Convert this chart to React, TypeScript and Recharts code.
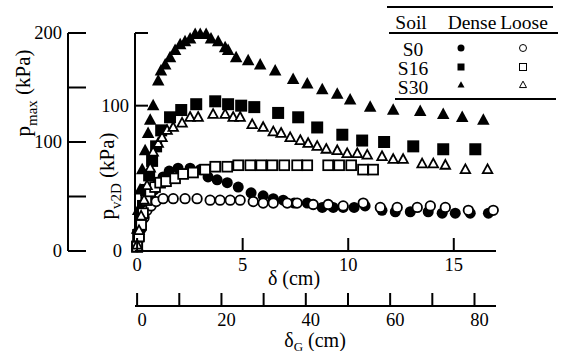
import { ScatterChart, Scatter, XAxis, YAxis, Legend } from 'recharts';

const FONT = '"Liberation Serif", "Times New Roman", serif';

// [δ (cm), p_v2D (kPa)]
const denseS0: [number, number][] = [
  [0, 3], [0.09, 8], [0.19, 15], [0.28, 22], [0.43, 29], [0.62, 36], [0.81, 42], [1.0, 47],
  [1.23, 51], [1.52, 55], [1.94, 57], [2.51, 57], [2.99, 56], [3.36, 51], [3.79, 49], [4.27, 47],
  [4.79, 44], [5.4, 40], [5.97, 38], [6.45, 36], [6.92, 35], [7.44, 33], [8.06, 33], [8.77, 30],
  [9.29, 30], [9.76, 30], [10.28, 30], [10.8, 31], [11.6, 28], [12.23, 27], [12.94, 27],
  [13.79, 27], [14.45, 26], [15.07, 26], [15.78, 26], [16.64, 26],
];
const denseS16: [number, number][] = [
  [0, 3], [0.05, 11], [0.14, 21], [0.28, 31], [0.43, 42], [0.57, 52], [0.71, 62], [0.9, 72],
  [1.14, 83], [1.56, 92], [2.09, 97], [2.8, 101], [3.7, 103], [4.31, 101], [4.93, 100], [5.55, 99],
  [6.68, 95], [7.63, 92], [8.53, 85], [9.72, 80], [10.66, 76], [11.7, 75], [13.08, 72],
  [14.5, 70], [16.02, 70],
];
const denseS30: [number, number][] = [
  [0, 3], [0.0, 15], [0.05, 28], [0.14, 42], [0.24, 56], [0.38, 69], [0.52, 81], [0.62, 90],
  [0.76, 100], [1.0, 117], [1.13, 124], [1.33, 128], [1.56, 133], [1.8, 138], [2.04, 142],
  [2.27, 144], [2.51, 146], [2.75, 149], [2.99, 149], [3.27, 149], [3.5, 146], [3.84, 144],
  [4.17, 140], [4.31, 138], [4.69, 133], [5.26, 131], [5.83, 128], [6.54, 124], [7.39, 118],
  [8.06, 115], [8.77, 111], [9.48, 108], [10.09, 104], [11.04, 99], [12.13, 97], [13.41, 96],
  [14.5, 94], [15.4, 92], [16.4, 90],
];
const looseS0: [number, number][] = [
  [0, 3], [0.09, 10], [0.19, 17], [0.33, 23], [0.47, 28], [0.66, 31], [0.9, 34], [1.23, 36],
  [1.71, 36], [2.27, 36], [2.84, 36], [3.46, 35], [3.93, 35], [4.41, 35], [4.88, 35], [5.5, 34],
  [5.97, 33], [6.45, 33], [7.11, 33], [7.58, 33], [8.34, 32], [9.05, 32], [9.76, 31], [10.71, 33],
  [11.52, 30], [12.32, 30], [13.27, 30], [13.89, 31], [14.6, 30], [15.69, 28], [16.87, 28],
];
const looseS16: [number, number][] = [
  [0, 3], [0.09, 10], [0.19, 18], [0.28, 26], [0.43, 35], [0.62, 41], [0.85, 44], [1.09, 47],
  [1.37, 48], [1.8, 50], [2.18, 53], [2.65, 54], [3.22, 56], [3.7, 58], [4.27, 58], [4.79, 59],
  [5.36, 59], [5.88, 59], [6.4, 59], [6.97, 59], [7.58, 59], [8.06, 59], [9.05, 59], [9.57, 59],
  [10.14, 59], [10.7, 56], [11.18, 56],
];
const looseS30: [number, number][] = [
  [0, 4], [0.09, 14], [0.19, 24], [0.33, 35], [0.47, 45], [0.62, 57], [0.76, 68], [1.0, 74],
  [1.18, 78], [1.42, 83], [1.71, 85], [2.13, 88], [2.51, 92], [2.89, 92], [3.6, 94], [4.17, 94],
  [4.55, 92], [4.88, 92], [5.45, 87], [5.97, 85], [6.45, 82], [6.82, 81], [7.25, 78], [7.73, 76],
  [8.1, 74], [8.53, 72], [8.96, 70], [9.48, 69], [9.95, 67], [10.43, 67], [10.9, 66], [11.6, 65],
  [12.13, 63], [12.6, 63], [13.5, 60], [14.03, 60], [14.6, 59], [15.55, 56], [16.6, 56],
];

const deltaTicks = [0, 5, 10, 15];
const deltaGTicks = [0, 10, 20, 30, 40, 50, 60, 70, 80];
const deltaGLabels = [0, 20, 40, 60, 80];
const pmaxTicks = [0, 50, 100, 150, 200];
const pmaxLabels = [0, 100, 200];
const pv2dTicks = [0, 100, 150];
const pv2dLabels = [0, 100];

type Kind = 'circle' | 'square' | 'triangle';

const series: { soil: string; kind: Kind; filled: boolean; data: [number, number][] }[] = [
  { soil: 'S0', kind: 'circle', filled: true, data: denseS0 },
  { soil: 'S16', kind: 'square', filled: true, data: denseS16 },
  { soil: 'S30', kind: 'triangle', filled: true, data: denseS30 },
  { soil: 'S0', kind: 'circle', filled: false, data: looseS0 },
  { soil: 'S16', kind: 'square', filled: false, data: looseS16 },
  { soil: 'S30', kind: 'triangle', filled: false, data: looseS30 },
];

function Marker({ cx, cy, kind, filled, size }: { cx: number; cy: number; kind: Kind; filled: boolean; size: number }) {
  const style = filled
    ? { fill: '#000', stroke: 'none' }
    : { fill: '#fff', stroke: '#000', strokeWidth: size > 8 ? 1.8 : 1 };
  if (kind === 'circle') return <circle cx={cx} cy={cy} r={size / 2} {...style} />;
  if (kind === 'square') return <rect x={cx - size / 2} y={cy - size / 2} width={size} height={size} {...style} />;
  const h = size * 0.92;
  return (
    <polygon
      points={`${cx},${cy - h * 0.6} ${cx + size / 2},${cy + h * 0.4} ${cx - size / 2},${cy + h * 0.4}`}
      {...style}
    />
  );
}

const bigSize = (kind: Kind, filled: boolean) => {
  if (kind === 'circle') return filled ? 11 : 9.5;
  if (kind === 'square') return filled ? 12 : 9.8;
  return filled ? 12.5 : 9.5;
};

function LegendTable() {
  const rows = ['S0', 'S16', 'S30'];
  const rowY = [56, 75, 94];
  const text = { fontFamily: FONT, fontSize: 19.5, fill: '#000' };
  return (
    <svg width={186} height={105} style={{ display: 'block' }}>
      <line x1={7} x2={173} y1={7} y2={7} stroke="#000" strokeWidth={2} />
      <text x={31} y={29} textAnchor="middle" {...text}>Soil</text>
      <text x={92} y={29} textAnchor="middle" {...text}>Dense</text>
      <text x={144} y={29} textAnchor="middle" {...text}>Loose</text>
      <line x1={9} x2={178} y1={33} y2={33} stroke="#000" strokeWidth={2} />
      {rows.map((r, i) => {
        const s = series.filter((d) => d.soil === r);
        return (
          <g key={r}>
            <text x={33} y={rowY[i]} textAnchor="middle" {...text}>{r}</text>
            {s.map((d) => (
              <Marker
                key={String(d.filled)}
                cx={d.filled ? 81 : 143}
                cy={rowY[i] - 8 + (d.kind === 'triangle' ? -1 : 0)}
                kind={d.kind}
                filled={d.filled}
                size={7}
              />
            ))}
          </g>
        );
      })}
      <line x1={15} x2={176} y1={99} y2={99} stroke="#000" strokeWidth={2} />
    </svg>
  );
}

const tickText = { fontFamily: FONT, fontSize: 18.5, fill: '#000' };

function YTick({ x, y, payload, len, labels, zeroDx = 0 }: any) {
  const v = payload?.value;
  return (
    <g>
      <line x1={x} x2={x + len} y1={y} y2={y} stroke="#000" strokeWidth={2} />
      {labels.includes(v) && (
        <text x={x - 6 - (v === 0 ? zeroDx : 0)} y={y + 6} textAnchor="end" {...tickText}>{v}</text>
      )}
    </g>
  );
}

function XTick({ x, y, payload, labels, dx }: any) {
  const v = payload?.value;
  return (
    <g>
      <line x1={x} x2={x} y1={y} y2={y - 13} stroke="#000" strokeWidth={2} />
      {labels.includes(v) && (
        <text x={x + dx} y={y + 20} textAnchor="middle" {...tickText}>{v}</text>
      )}
    </g>
  );
}

function VTitle({ cx, cy, sub }: { cx: number; cy: number; sub: string }) {
  return (
    <text
      x={cx}
      y={cy}
      transform={`rotate(-90, ${cx}, ${cy})`}
      textAnchor="middle"
      fontFamily={FONT}
      fontSize={21}
      fill="#000"
    >
      p<tspan dy={7} fontSize={15}>{sub}</tspan>
      <tspan dy={-7}> (kPa)</tspan>
    </text>
  );
}

const axisLine = { stroke: '#000', strokeWidth: 2 };

export default function App() {
  return (
    <div style={{ position: 'absolute', left: 0, top: 0, fontFamily: FONT }}>
      <ScatterChart width={566} height={351} margin={{ top: 33, right: 70, bottom: 0, left: 0 }}>
        <XAxis
          xAxisId="d"
          type="number"
          dataKey="x"
          domain={[-0.1, 17]}
          ticks={deltaTicks}
          interval={0}
          height={55}
          axisLine={axisLine}
          tickLine={false}
          tickSize={0}
          tickMargin={0}
          tick={(p: any) => <XTick {...p} labels={deltaTicks} dx={0} />}
          label={(p: any) => {
            const vb = p.viewBox ?? { x: 135, y: 251 };
            return (
              <text x={vb.x + 159} y={vb.y + 34} textAnchor="middle" fontFamily={FONT} fontSize={20} fill="#000">
                δ (cm)
              </text>
            );
          }}
        />
        <XAxis
          xAxisId="g"
          type="number"
          dataKey="x"
          domain={[-0.5, 85.1]}
          allowDataOverflow
          ticks={deltaGTicks}
          interval={0}
          height={45}
          axisLine={axisLine}
          tickLine={false}
          tickSize={0}
          tickMargin={0}
          tick={(p: any) => <XTick {...p} labels={deltaGLabels} dx={5} />}
          label={(p: any) => {
            const vb = p.viewBox ?? { x: 135, y: 306 };
            return (
              <text x={vb.x + 180} y={vb.y + 41} textAnchor="middle" fontFamily={FONT} fontSize={20} fill="#000">
                δ<tspan dy={4} fontSize={13}>G</tspan>
                <tspan dy={-4}> (cm)</tspan>
              </text>
            );
          }}
        />
        <YAxis
          yAxisId="inner"
          type="number"
          dataKey="y"
          domain={[0, 150]}
          ticks={pv2dTicks}
          interval={0}
          width={67}
          axisLine={axisLine}
          tickLine={false}
          tickSize={0}
          tickMargin={0}
          tick={(p: any) => <YTick {...p} len={13} labels={pv2dLabels} zeroDx={7} />}
          label={(p: any) => {
            const vb = p.viewBox ?? { x: 68, y: 33 };
            return <VTitle cx={vb.x + 46} cy={vb.y + 143} sub="v2D" />;
          }}
        />
        <YAxis
          yAxisId="outer"
          type="number"
          dataKey="y"
          domain={[0, 200]}
          allowDataOverflow
          ticks={pmaxTicks}
          interval={0}
          width={68}
          axisLine={axisLine}
          tickLine={false}
          tickSize={0}
          tickMargin={0}
          tick={(p: any) => <YTick {...p} len={18} labels={pmaxLabels} />}
          label={(p: any) => {
            const vb = p.viewBox ?? { x: 0, y: 33 };
            return <VTitle cx={vb.x + 30} cy={vb.y + 60} sub="max" />;
          }}
        />
        {/* the δ_G and p_max scales carry no series of their own: an empty one keeps their ticks */}
        <Scatter xAxisId="g" yAxisId="outer" data={[]} isAnimationActive={false} legendType="none" />
        {series.map((s, i) => (
          <Scatter
            key={i}
            xAxisId="d"
            yAxisId="inner"
            data={s.data.map(([x, y]) => ({ x, y }))}
            isAnimationActive={false}
            shape={(p: any) => (
              <Marker cx={p.cx} cy={p.cy} kind={s.kind} filled={s.filled} size={bigSize(s.kind, s.filled)} />
            )}
          />
        ))}
        <Legend
          layout="vertical"
          align="center"
          verticalAlign="middle"
          wrapperStyle={{ left: 380, top: 0, width: 186, height: 105 }}
          content={() => <LegendTable />}
        />
      </ScatterChart>
    </div>
  );
}
